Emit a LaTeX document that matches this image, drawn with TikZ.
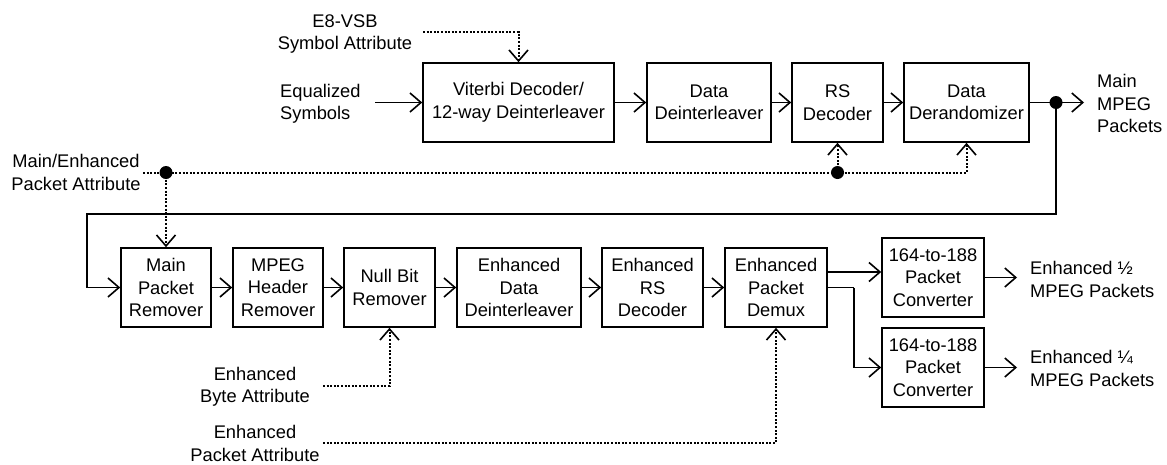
\documentclass[tikz,border=0pt]{standalone}
\usepackage{fontspec}
\setmainfont{Liberation Sans}
\usetikzlibrary{arrows.meta}
\begin{document}
\begin{tikzpicture}[x=1pt,y=-1pt,
  font=\fontsize{18.3}{22.5}\selectfont,
  box/.style={draw,line width=1.6pt,align=center,inner sep=0pt,minimum height=79pt},
  lbl/.style={align=center,inner sep=0pt},
  tipstyle/.style={-{Straight Barb[length=11pt,width=19pt,line width=1.6pt]}},
  flow/.style={line width=1.6pt,tipstyle},
  plain/.style={line width=1.6pt},
  attr/.style={line width=2pt,dash pattern=on 2pt off 1.6pt,tipstyle},
  attrl/.style={line width=2pt,dash pattern=on 2pt off 1.6pt},
  dot/.style={fill=black}]
\useasboundingbox (0,0) rectangle (1167,464);

% top row
\node[box,minimum width=191pt] (vit) at (518.5,102.5) {Viterbi Decoder/\\12-way Deinterleaver};
\node[box,minimum width=124pt] (dint) at (709,102.5) {Data\\Deinterleaver};
\node[box,minimum width=91pt] (rs) at (837.5,102.5) {RS\\Decoder};
\node[box,minimum width=125pt] (der) at (966.5,102.5) {Data\\Derandomizer};

% bottom row
\node[box,minimum width=90pt] (mpr) at (166,287.5) {Main\\Packet\\Remover};
\node[box,minimum width=90pt] (mhr) at (278,287.5) {MPEG\\Header\\Remover};
\node[box,minimum width=91pt] (nbr) at (389.5,287.5) {Null Bit\\Remover};
\node[box,minimum width=124pt] (edd) at (519,287.5) {Enhanced\\Data\\Deinterleaver};
\node[box,minimum width=101pt] (ers) at (652.5,287.5) {Enhanced\\RS\\Decoder};
\node[box,minimum width=102pt] (epd) at (776,287.5) {Enhanced\\Packet\\Demux};
\node[box,minimum width=102pt] (cv1) at (933,277.5) {164-to-188\\Packet\\Converter};
\node[box,minimum width=102pt] (cv2) at (933,367.5) {164-to-188\\Packet\\Converter};

% labels
\node[lbl] (e8) at (345,34) {E8-VSB\\Symbol Attribute};
\node[lbl,align=left,anchor=west] (eq) at (280,104) {Equalized\\Symbols};
\node[lbl,align=left,anchor=west] (mmp) at (1097,103.5) {Main\\MPEG\\Packets};
\node[lbl] (mea) at (76,172.5) {Main/Enhanced\\Packet Attribute};
\node[lbl] (eba) at (255,387) {Enhanced\\Byte Attribute};
\node[lbl] (epa) at (255,443.5) {Enhanced\\Packet Attribute};
\node[lbl,align=left,anchor=west] (o1l) at (1030,279.5) {Enhanced \char"00BD\\MPEG Packets};
\node[lbl,align=left,anchor=west] (o2l) at (1030,368.5) {Enhanced \char"00BC\\MPEG Packets};

% coordinates
\coordinate (eqs) at (375,102.5);
\coordinate (d1) at (1056,102.5);
\coordinate (mout) at (1084,102.5);
\coordinate (fbl) at (87,214);
\coordinate (split) at (854,287.5);
\coordinate (o1) at (1017,277.5);
\coordinate (o2) at (1017,367.5);
\coordinate (e8s) at (423,32);
\coordinate (mes) at (143,172.5);
\coordinate (d2) at (166,172.5);
\coordinate (d3) at (837.5,172.5);
\coordinate (ebs) at (323,386);
\coordinate (eps) at (323,443);

% top flow
\draw[flow] (eqs) -- (vit.west);
\draw[flow] (vit.east) -- (dint.west);
\draw[flow] (dint.east) -- (rs.west);
\draw[flow] (rs.east) -- (der.west);
\draw[plain] (der.east) -- (d1);
\draw[flow] (d1) -- (mout);
\draw[flow] (d1) |- (fbl) |- (mpr.west);
\fill[dot] (d1) circle (6.5pt);

% bottom flow
\draw[flow] (mpr.east) -- (mhr.west);
\draw[flow] (mhr.east) -- (nbr.west);
\draw[flow] (nbr.east) -- (edd.west);
\draw[flow] (edd.east) -- (ers.west);
\draw[flow] (ers.east) -- (epd.west);
\draw[flow] ([yshift=15.5pt]epd.east) -- ([yshift=15.5pt]epd.east -| cv1.west);
\draw[plain] (epd.east) -- (split);
\draw[flow] (split) |- (cv2.west);
\draw[flow] (cv1.east) -- (o1);
\draw[flow] (cv2.east) -- (o2);

% attributes
\draw[attr] (e8s) -| (vit.north);
\draw[attrl] (mes) -- (d3);
\draw[attr] (d3) -| (der.south);
\draw[attr] (d3) -- (rs.south);
\draw[attr] (d2) -- (mpr.north);
\fill[dot] (d2) circle (6.5pt);
\fill[dot] (d3) circle (6.5pt);
\draw[attr] (ebs) -| (nbr.south);
\draw[attr] (eps) -| (epd.south);
\end{tikzpicture}
\end{document}
